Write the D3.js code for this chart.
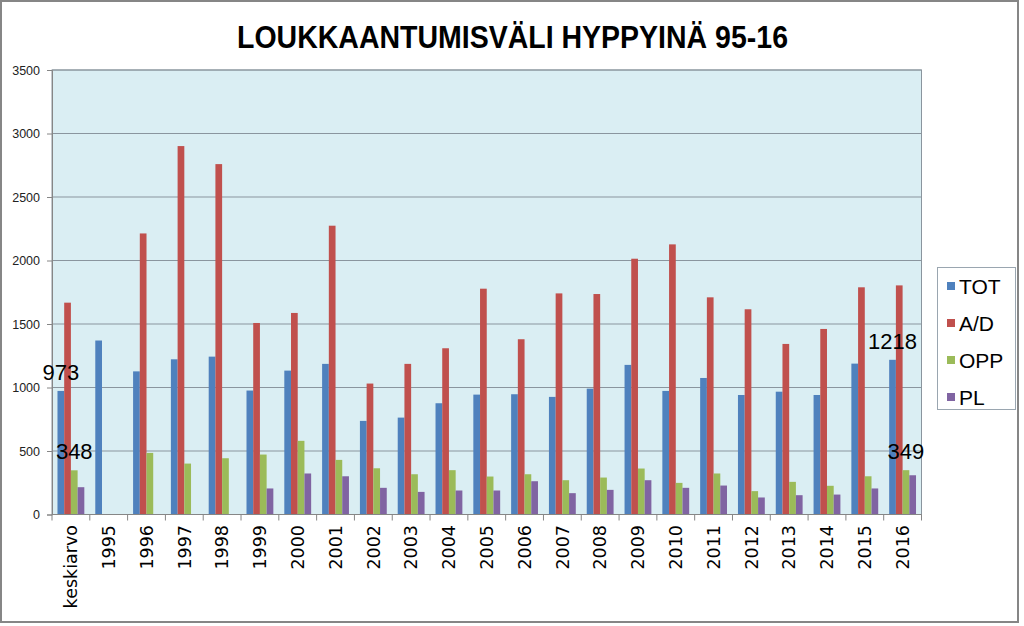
<!DOCTYPE html>
<html><head><meta charset="utf-8">
<script src="https://cdn.jsdelivr.net/npm/d3@7/dist/d3.min.js"></script>
<style>body{margin:0;background:#fff}svg{display:block}</style>
</head><body>
<svg id="c" width="1024" height="626"></svg>
<script>
const titleText = "LOUKKAANTUMISVÄLI HYPPYINÄ 95-16";
const categories = ["keskiarvo","1995","1996","1997","1998","1999","2000","2001","2002","2003","2004","2005","2006","2007","2008","2009","2010","2011","2012","2013","2014","2015","2016"];
const seriesNames = ["TOT","A/D","OPP","PL"];
const tot = [973,1370,1127,1222,1243,976,1133,1186,737,763,876,944,947,926,991,1178,973,1075,941,967,941,1188,1218];
const ad  = [1668,0,2213,2901,2759,1508,1587,2274,1031,1186,1309,1778,1380,1741,1736,2014,2127,1710,1616,1343,1461,1789,1804];
const opp = [348,0,485,401,443,472,580,430,364,317,349,299,317,270,291,362,249,323,184,257,226,301,349];
const pl  = [215,0,0,0,0,205,323,301,210,178,189,189,262,168,194,270,210,228,134,152,157,205,309];
const yTicks = [0,500,1000,1500,2000,2500,3000,3500];
const labelled = [["keskiarvo","TOT"],["keskiarvo","OPP"],["2016","TOT"],["2016","OPP"]];
const colors = ["#4F81BD","#C0504D","#9BBB59","#8064A2"];

const seriesData = [tot, ad, opp, pl];
const svg = d3.select("#c");
const L = 52, R = 921.5, T = 70, B = 514.5;

// frame
svg.append("rect").attr("x",1).attr("y",1).attr("width",1017).attr("height",621)
  .attr("fill","#fff").attr("stroke","#868686").attr("stroke-width",2);

svg.append("text").attr("x",512.5).attr("y",48).attr("text-anchor","middle")
  .attr("font-family","Liberation Sans, Arial, sans-serif").attr("font-weight","bold")
  .attr("font-size",31).attr("textLength",551).attr("lengthAdjust","spacingAndGlyphs")
  .attr("fill","#000").text(titleText);

const x0 = d3.scaleBand().domain(categories).range([L,R]).paddingInner(0.29).paddingOuter(0.145);
const x1 = d3.scaleBand().domain(seriesNames).range([0,x0.bandwidth()]);
const y = d3.scaleLinear().domain([0,3500]).range([B,T]);
const step = x0.step();

// plot bg
svg.append("rect").attr("x",L).attr("y",T).attr("width",R-L).attr("height",B-T).attr("fill","#DAEEF3");

// gridlines
svg.append("g").selectAll("line").data(yTicks.filter(d=>d>0)).join("line")
  .attr("x1",L).attr("x2",R).attr("y1",d=>y(d)).attr("y2",d=>y(d))
  .attr("stroke","#8a959e").attr("stroke-width",1);

// bars
const rows = categories.map((c,i)=>({c, vals: seriesNames.map((s,j)=>({s, v: seriesData[j][i], j}))}));
const g = svg.append("g");
g.selectAll("g").data(rows).join("g").attr("transform",d=>`translate(${x0(d.c)},0)`)
  .selectAll("rect").data(d=>d.vals.filter(v=>v.v>0)).join("rect")
  .attr("x",d=>x1(d.s)).attr("width",x1.bandwidth())
  .attr("y",d=>y(d.v)).attr("height",d=>y(0)-y(d.v)).attr("fill",d=>colors[d.j]);

// plot border
svg.append("rect").attr("x",L).attr("y",T).attr("width",R-L).attr("height",B-T)
  .attr("fill","none").attr("stroke","#8a959e").attr("stroke-width",1);

// y axis
const ya = d3.axisLeft(y).tickValues(yTicks).tickSize(5).tickPadding(7).tickFormat(d3.format("d"));
const yg = svg.append("g").attr("transform",`translate(${L},0)`).call(ya);
yg.select(".domain").attr("stroke","#868686");
yg.selectAll(".tick line").attr("stroke","#868686");
yg.selectAll("text").attr("font-family","Liberation Sans, Arial, sans-serif").attr("font-size",12.5).attr("fill","#222");

// x axis
const xa = svg.append("g");
xa.append("line").attr("x1",L).attr("x2",R).attr("y1",B).attr("y2",B).attr("stroke","#868686");
xa.selectAll("line.t").data(d3.range(categories.length+1)).join("line").attr("class","t")
  .attr("x1",i=>L+i*step).attr("x2",i=>L+i*step).attr("y1",B).attr("y2",B+6).attr("stroke","#868686");
xa.selectAll("text").data(categories).join("text")
  .attr("transform",d=>`translate(${x0(d)+x0.bandwidth()/2},525) rotate(-90)`)
  .attr("text-anchor","end").attr("dy","0.36em")
  .attr("font-family","DejaVu Sans, Verdana, sans-serif").attr("font-size",17.5).attr("fill","#000")
  .text(d=>d);

// data labels
svg.append("g").selectAll("text").data(labelled).join("text")
  .attr("x",d=>x0(d[0])+x1(d[1])+x1.bandwidth()/2)
  .attr("y",d=>y(seriesData[seriesNames.indexOf(d[1])][categories.indexOf(d[0])])-11)
  .attr("text-anchor","middle").attr("font-family","Liberation Sans, Arial, sans-serif")
  .attr("font-size",22).attr("fill","#000")
  .text(d=>seriesData[seriesNames.indexOf(d[1])][categories.indexOf(d[0])]);

// legend
const lg = svg.append("g");
lg.append("rect").attr("x",937.5).attr("y",267.5).attr("width",78).attr("height",142)
  .attr("fill","#fff").attr("stroke","#9aa6b0");
const items = lg.selectAll("g").data(seriesNames).join("g")
  .attr("transform",(d,i)=>`translate(947,${286+i*37})`);
items.append("rect").attr("x",0).attr("y",-4).attr("width",8).attr("height",8).attr("fill",(d,i)=>colors[i]);
items.append("text").attr("x",12).attr("y",7.5).attr("font-family","Liberation Sans, Arial, sans-serif")
  .attr("font-size",21).attr("fill","#000").text(d=>d);
</script>
</body></html>
